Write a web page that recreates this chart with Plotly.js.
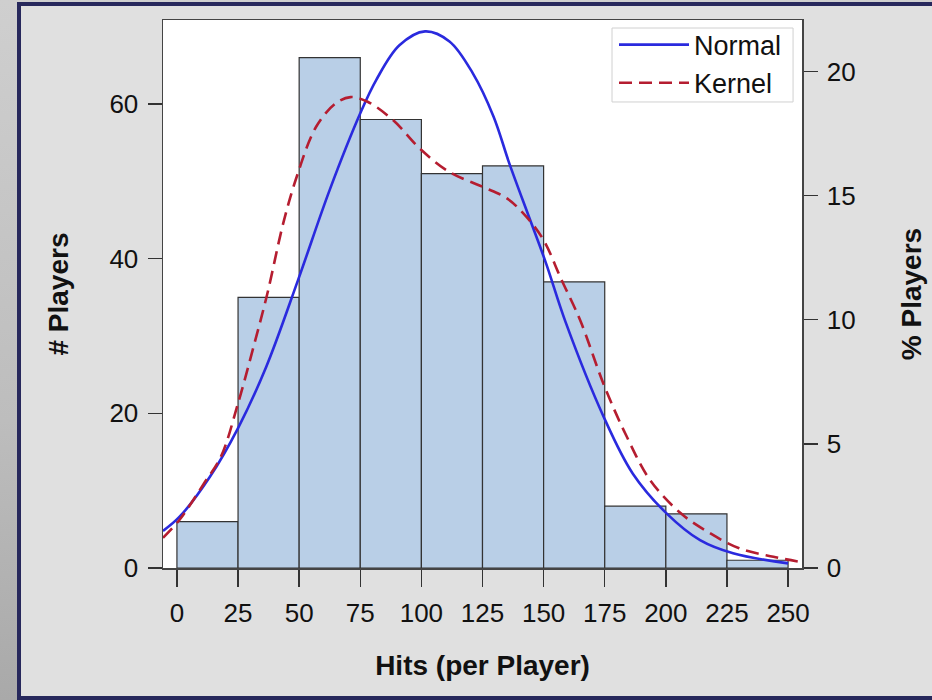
<!DOCTYPE html>
<html>
<head>
<meta charset="utf-8">
<script src="https://cdn.plot.ly/plotly-3.0.1.min.js"></script>
<style>
  html, body { margin:0; padding:0; width:932px; height:700px; overflow:hidden; }
  body { background: linear-gradient(to bottom, #cfcfcf 0%, #bdbdbd 60%, #a9a9a9 100%); position:relative; }
  #frame { position:absolute; left:17px; top:2px; width:930px; height:690px; border:4px solid #27285c; background:#e0e0e0; }
  #chart { position:absolute; left:0; top:0; width:932px; height:700px; }
</style>
</head>
<body>
<div id="frame"></div>
<div id="chart"></div>
<script>
// Histogram bins (lower edges) and counts
const binStarts = [0, 25, 50, 75, 100, 125, 150, 175, 200, 225];
const binWidth = 25;
const counts = [6, 35, 66, 58, 51, 52, 37, 8, 7, 1];

// Normal fit curve (in # players)
const normalX = [-5.7, 1, 13.5, 25, 36.5, 49.5, 62.5, 75, 81.5, 91, 101.5, 111.5, 121, 129.5, 136, 144.5, 151, 159, 174.5, 186.5, 200.5, 214, 227.5, 250];
const normalY = [4.8, 6.6, 11.8, 18.1, 26.0, 37.2, 48.9, 58.8, 63.1, 67.6, 69.4, 68.1, 64.0, 58.4, 52.3, 45.0, 39.4, 31.8, 19.6, 12.2, 7.0, 3.6, 1.9, 0.6];

// Kernel density curve (in # players)
const kernelX = [-5.7, 1, 11, 18, 25, 31, 37, 43.5, 49, 57, 65, 71, 78, 88.5, 99.5, 111.5, 125, 135, 143, 150, 157, 165, 175, 184, 193.5, 206, 217, 230, 244, 255.7];
const kernelY = [3.9, 6.2, 10.9, 14.4, 21.3, 28.2, 35.5, 44.6, 50.6, 57.1, 60.1, 60.9, 60.3, 57.9, 54.2, 51.2, 49.3, 47.8, 45.4, 42.4, 37.5, 32.0, 23.4, 17.0, 11.4, 7.1, 4.7, 2.55, 1.45, 0.75];

const xTicks = [0, 25, 50, 75, 100, 125, 150, 175, 200, 225, 250];
const yTicks = [0, 20, 40, 60];
const pctTicks = [0, 5, 10, 15, 20];

const total = counts.reduce((a, b) => a + b, 0);
const yMax = 70.87;
const FONT = '"Liberation Sans", Arial, Helvetica, sans-serif';

const binCenters = binStarts.map(s => s + binWidth / 2);

const traces = [
  {
    type: 'bar', x: binCenters, y: counts, width: binWidth,
    marker: { color: '#b9cfe7', line: { color: '#333333', width: 1.2 } },
    showlegend: false, hoverinfo: 'x+y'
  },
  {
    type: 'scatter', mode: 'lines', name: 'Normal', x: normalX, y: normalY,
    line: { color: '#2a2ade', width: 2.6, shape: 'spline', smoothing: 1 }
  },
  {
    type: 'scatter', mode: 'lines', name: 'Kernel', x: kernelX, y: kernelY,
    line: { color: '#b51d30', width: 2.6, dash: '13px,7px', shape: 'spline', smoothing: 1 }
  },
  {
    type: 'scatter', mode: 'lines', x: [null], y: [null], yaxis: 'y2',
    showlegend: false, hoverinfo: 'skip'
  }
];

const layout = {
  width: 932, height: 700,
  paper_bgcolor: 'rgba(0,0,0,0)',
  plot_bgcolor: '#ffffff',
  margin: { l: 163, r: 130, t: 20, b: 132, pad: 0 },
  font: { family: FONT, color: '#111111', size: 25 },
  bargap: 0,
  showlegend: true,
  shapes: [
    { type: 'rect', xref: 'paper', yref: 'paper', x0: 0.7027, x1: 0.986, y0: 0.8504, y1: 0.9854,
      fillcolor: '#ffffff', line: { color: '#d0d0d0', width: 1 }, layer: 'above' }
  ],
  legend: {
    x: 0.7058, y: 0.999, xanchor: 'left', yanchor: 'top',
    bgcolor: 'rgba(0,0,0,0)', borderwidth: 0,
    font: { family: FONT, size: 27, color: '#111111' },
    itemwidth: 70, tracegroupgap: 0
  },
  xaxis: {
    range: [-5.7, 255.7], tickvals: xTicks, ticktext: xTicks.map(String),
    ticks: 'outside', ticklen: 17, tickwidth: 1.4, tickcolor: '#333333',
    showline: true, linecolor: '#444444', linewidth: 1.5, mirror: true,
    showgrid: false, zeroline: false,
    tickfont: { family: FONT, size: 26, color: '#111111' },
    ticklabelstandoff: 4,
    title: { text: 'Hits (per Player)', font: { family: FONT, size: 28, weight: 'bold', color: '#111111' }, standoff: 28 }
  },
  yaxis: {
    range: [0, yMax], tickvals: yTicks, ticktext: yTicks.map(String),
    ticks: 'outside', ticklen: 14, tickwidth: 1.4, tickcolor: '#333333',
    showline: true, linecolor: '#444444', linewidth: 1.5, mirror: true,
    showgrid: false, zeroline: false,
    tickfont: { family: FONT, size: 26, color: '#111111' },
    ticklabelstandoff: 4,
    title: { text: '# Players', font: { family: FONT, size: 28, weight: 'bold', color: '#111111' }, standoff: 32 }
  },
  yaxis2: {
    overlaying: 'y', side: 'right',
    range: [0, yMax * 100 / total], tickvals: pctTicks, ticktext: pctTicks.map(String),
    ticks: 'outside', ticklen: 14, tickwidth: 1.4, tickcolor: '#333333',
    showline: true, linecolor: '#444444', linewidth: 1.5,
    showgrid: false, zeroline: false,
    tickfont: { family: FONT, size: 26, color: '#111111' },
    ticklabelstandoff: 4,
    title: { text: '% Players', font: { family: FONT, size: 28, weight: 'bold', color: '#111111' }, standoff: 47 }
  }
};

Plotly.newPlot('chart', traces, layout, { displayModeBar: false, staticPlot: true });
</script>
</body>
</html>
